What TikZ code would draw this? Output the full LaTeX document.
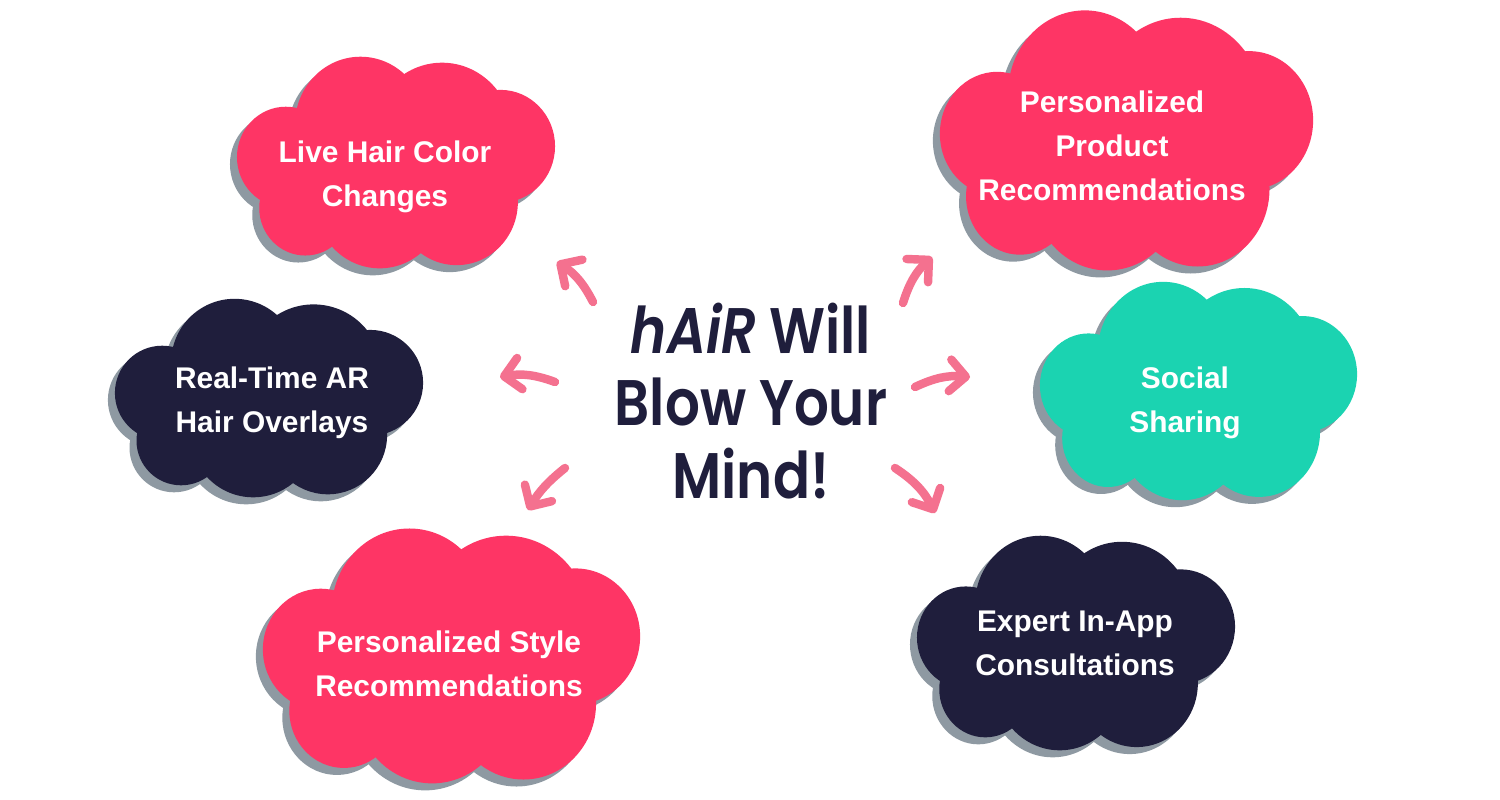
\documentclass[tikz,border=0pt]{standalone}
\usepackage{fontspec}
\usetikzlibrary{arrows.meta}

\newfontfamily\cloudfont{Liberation Sans}
\newfontfamily\titlefont{Poppins}[UprightFont=* SemiBold, ItalicFont=* SemiBold Italic, FakeStretch=0.85]

\definecolor{hairpink}{HTML}{FE3565}
\definecolor{hairnavy}{HTML}{1F1E3C}
\definecolor{hairteal}{HTML}{1BD3B1}
\definecolor{cloudshadow}{HTML}{8E99A2}
\definecolor{arrowpink}{HTML}{F4718F}

\tikzset{
  cloudtext/.style={text=white, align=center, font=\cloudfont\bfseries\fontsize{8.5}{12.5}\selectfont},
  brush/.style={arrowpink, line width=2.4pt, line cap=round, -{Straight Barb[length=4.5pt,width=9pt,round]}}
}

% one cloud blob, drawn round (0,0)
\newcommand{\cloudblob}[1]{%
  \foreach \cx/\cy/\r in {-34.4/-36.3/63.4, 44.6/-25.8/68.3, 101.2/-15.7/52.9,
      58.8/36.5/59.3, -15.8/36.1/62.7, -87.9/42.2/44.6, -106.8/-5.5/47.3}
    \fill[#1] (\cx,\cy) circle[radius=\r];
  \fill[#1] (-100,-40) rectangle (100,45);
}
% #1,#2 centre, #3,#4 scale, #5 colour
\newcommand{\drawcloud}[5]{%
  \begin{scope}[shift={(#1-7,#2+7)}, xscale=#3, yscale=#4]
    \cloudblob{cloudshadow}
  \end{scope}
  \begin{scope}[shift={(#1,#2)}, xscale=#3, yscale=#4]
    \cloudblob{#5}
  \end{scope}
}

\begin{document}
\begin{tikzpicture}[x=0.01cm, y=-0.01cm]
\useasboundingbox (0,0) rectangle (1500,800);
\fill[white] (0,0) rectangle (1500,800);

% clouds
\drawcloud{396}{163}{1.032}{1.066}{hairpink}
\drawcloud{1126.5}{141}{1.211}{1.31}{hairpink}
\drawcloud{269}{398.5}{1}{1}{hairnavy}
\drawcloud{1198.5}{391.5}{1.029}{1.10}{hairteal}
\drawcloud{451.5}{656.5}{1.224}{1.284}{hairpink}
\drawcloud{1076}{643.5}{1.032}{1.081}{hairnavy}

\node[cloudtext] (live) at (385,177) {Live Hair Color\\Changes};
\node[cloudtext] (product) at (1112,146) {Personalized\\Product\\Recommendations};
\node[cloudtext] (overlay) at (272,403) {Real-Time AR\\Hair Overlays};
\node[cloudtext] (social) at (1185,403) {Social\\Sharing};
\node[cloudtext] (style) at (449,663.5) {Personalized Style\\Recommendations};
\node[cloudtext] (expert) at (1075,643.5) {Expert In-App\\Consultations};

\node[text=hairnavy, align=center, font=\titlefont\fontsize{18.3}{20.5}\selectfont] (title) at (751,401)
{\textit{hAiR} Will\\Blow Your\\Mind!};

% arrows
\coordinate (ul-tail) at (593,302);
\coordinate (ul-tip) at (557,262);
\coordinate (l-tail) at (555,382);
\coordinate (l-tip) at (500,377);
\coordinate (ll-tail) at (565,468);
\coordinate (ll-tip) at (528,510);
\coordinate (ur-tail) at (903,303);
\coordinate (ur-tip) at (932,257);
\coordinate (r-tail) at (915,387);
\coordinate (r-tip) at (970,377);
\coordinate (lr-tail) at (895,468);
\coordinate (lr-tip) at (935,513);

\draw[brush] (ul-tail) to[bend right=15] (ul-tip);
\draw[brush] (l-tail) to[bend right=15] (l-tip);
\draw[brush] (ll-tail) to[bend right=10] (ll-tip);
\draw[brush] (ur-tail) to[bend left=15] (ur-tip);
\draw[brush] (r-tail) to[bend left=15] (r-tip);
\draw[brush] (lr-tail) to[bend left=15] (lr-tip);

\end{tikzpicture}
\end{document}
